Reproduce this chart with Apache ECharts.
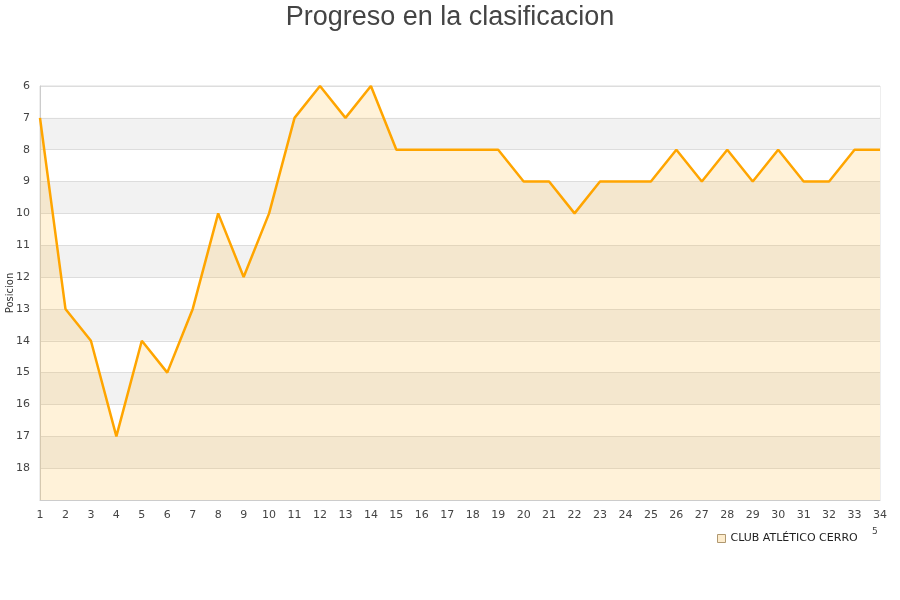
<!DOCTYPE html>
<html><head><meta charset="utf-8">
<script src="https://cdn.jsdelivr.net/npm/echarts@6/dist/echarts.min.js"></script>
<style>html,body{margin:0;padding:0;background:#fff}#c{width:900px;height:600px}</style>
</head><body><div id="c"></div>
<script>
const title = "Progreso en la clasificacion";
const yAxisName = "Posicion";
const seriesName = "CLUB ATLÉTICO CERRO";
const rounds = ["1","2","3","4","5","6","7","8","9","10","11","12","13","14","15","16","17","18","19","20","21","22","23","24","25","26","27","28","29","30","31","32","33","34"];
const positions = [7,13,14,17,14,15,13,10,12,10,7,6,7,6,8,8,8,8,8,9,9,10,9,9,9,8,9,8,9,8,9,9,8,8];
const yMin = 6, yMax = 19;

const chart = echarts.init(document.getElementById('c'), null, {renderer:'canvas'});
chart.setOption({
  animation:false,
  backgroundColor:'#ffffff',
  title:{text:title,left:'center',top:-1,textStyle:{fontFamily:'Liberation Sans',fontSize:27,fontWeight:'normal',color:'#444444'}},
  grid:{left:40,right:20,top:86,bottom:100,containLabel:false,outerBoundsMode:'none',show:true,borderColor:'#dddddd',borderWidth:1,backgroundColor:'transparent'},
  legend:{data:[{name:seriesName,icon:'rect',itemStyle:{color:'#fdeccd',borderColor:'#b09870',borderWidth:1}}],left:712,top:528,itemWidth:8,itemHeight:8,itemGap:9,
    textStyle:{fontFamily:'DejaVu Sans',fontSize:11,color:'#222'}},
  xAxis:{type:'category',data:rounds,boundaryGap:false,
    axisLine:{lineStyle:{color:'#cccccc'}},axisTick:{show:false},
    axisLabel:{fontFamily:'DejaVu Sans',fontSize:11,color:'#444',margin:10,interval:0},
    splitLine:{show:false}},
  yAxis:{type:'value',inverse:true,min:yMin,max:yMax,interval:1,name:yAxisName,nameLocation:'middle',nameGap:25,nameRotate:90,nameMoveOverlap:false,
    nameTextStyle:{fontFamily:'DejaVu Sans',fontSize:10,color:'#333'},
    axisLine:{show:true,lineStyle:{color:'#cccccc'}},axisTick:{show:false},
    axisLabel:{fontFamily:'DejaVu Sans',fontSize:11,color:'#444',margin:10,
      formatter:v=> (v===yMax?'':String(v))},
    splitLine:{show:true,lineStyle:{color:'#dddddd'}},
    splitArea:{show:true,areaStyle:{color:['#ffffff','#f2f2f2']}}},
  series:[{name:seriesName,type:'line',data:positions,symbol:'none',
    lineStyle:{color:'#ffa500',width:2.5},itemStyle:{color:'#fdeccd'},
    areaStyle:{color:'rgba(255,190,60,0.28)',origin:'end'}}],
  graphic:[{type:'text',left:872,top:527,style:{text:'5',fontSize:9,fill:'#444',fontFamily:'DejaVu Sans'}}]
});
</script></body></html>
